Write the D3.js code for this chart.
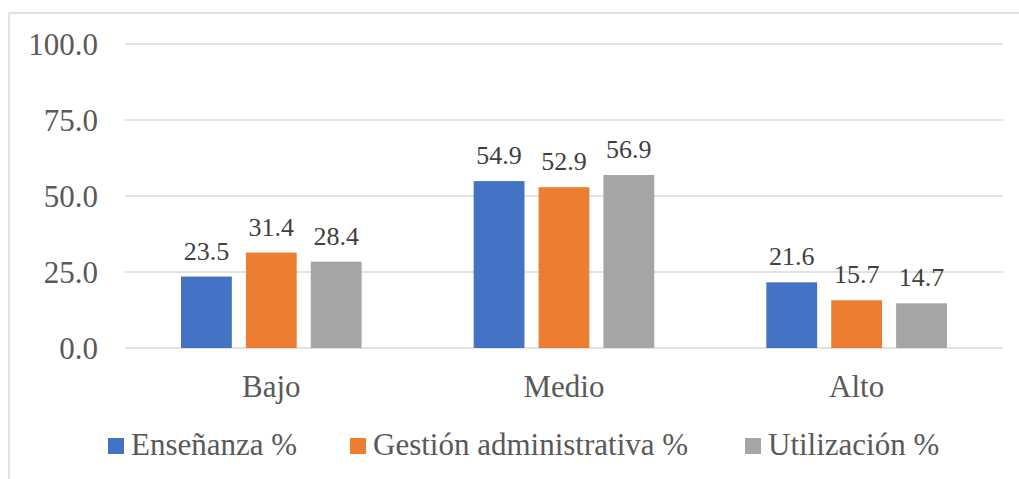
<!DOCTYPE html>
<html>
<head>
<meta charset="utf-8">
<script src="https://cdn.jsdelivr.net/npm/d3@7"></script>
<style>
  html, body { margin: 0; padding: 0; background: #fff; }
  svg { display: block; }
</style>
</head>
<body>
<svg id="chart" width="1019" height="479" font-family="'Liberation Serif', 'Times New Roman', Tinos, serif"></svg>
<script>
const categories = ["Bajo", "Medio", "Alto"];
const seriesNames = ["Enseñanza %", "Gestión administrativa %", "Utilización %"];
const ensenanza = [23.5, 54.9, 21.6];
const gestion = [31.4, 52.9, 15.7];
const utilizacion = [28.4, 56.9, 14.7];
const yTicks = [0, 25, 50, 75, 100];
const colors = ["#4472C4", "#ED7D31", "#A5A5A5"];

const seriesValues = [ensenanza, gestion, utilizacion];
const svg = d3.select("#chart");
const FONT = "Liberation Serif";
const TXT = "#595959";

// chart border (top + left visible)
svg.append("line").attr("x1", 9).attr("x2", 1019).attr("y1", 13).attr("y2", 13)
  .attr("stroke", "#d9d9d9").attr("stroke-width", 1.5);
svg.append("line").attr("x1", 9).attr("x2", 9).attr("y1", 13).attr("y2", 479)
  .attr("stroke", "#d9d9d9").attr("stroke-width", 1.5);

const x0 = d3.scaleBand().domain(categories).range([125, 1003]).paddingInner(0).paddingOuter(0);
const y = d3.scaleLinear().domain([0, 100]).range([348, 44]);
const x1 = d3.scaleBand().domain(d3.range(3)).range([56, 292.6 - 56]).paddingInner(0.217);

// gridlines
svg.append("g").selectAll("line").data(yTicks).join("line")
  .attr("x1", 125).attr("x2", 1003)
  .attr("y1", d => y(d)).attr("y2", d => y(d))
  .attr("stroke", "#d9d9d9").attr("stroke-width", 1.5);

// y labels
svg.append("g").selectAll("text").data(yTicks).join("text")
  .attr("x", 98).attr("y", d => y(d) + 10.5)
  .attr("text-anchor", "end").attr("font-size", 31)
  .attr("font-family", FONT).attr("fill", TXT)
  .text(d => d.toFixed(1));

// bars
const groups = svg.append("g").selectAll("g").data(categories).join("g")
  .attr("transform", c => `translate(${x0(c)},0)`);
groups.each(function(c, ci) {
  const g = d3.select(this);
  seriesValues.forEach((vals, si) => {
    const v = vals[ci];
    g.append("rect")
      .attr("x", x1(si)).attr("width", x1.bandwidth())
      .attr("y", y(v)).attr("height", y(0) - y(v))
      .attr("fill", colors[si]);
    g.append("text")
      .attr("x", x1(si) + x1.bandwidth() / 2).attr("y", y(v) - 17)
      .attr("text-anchor", "middle").attr("font-size", 26)
      .attr("font-family", FONT).attr("fill", "#404040")
      .text(v.toFixed(1));
  });
});

// category labels
svg.append("g").selectAll("text").data(categories).join("text")
  .attr("x", c => x0(c) + x0.bandwidth() / 2).attr("y", 396.5)
  .attr("text-anchor", "middle").attr("font-size", 31)
  .attr("font-family", FONT).attr("fill", TXT)
  .text(c => c);

// legend
const legendX = [108, 350, 745];
const leg = svg.append("g").selectAll("g").data(seriesNames).join("g")
  .attr("transform", (d, i) => `translate(${legendX[i]},0)`);
leg.append("rect").attr("x", 0).attr("y", 438).attr("width", 16).attr("height", 16)
  .attr("fill", (d, i) => colors[i]);
leg.append("text").attr("x", 23).attr("y", 455).attr("font-size", 31)
  .attr("font-family", FONT).attr("fill", TXT).text(d => d);
</script>
</body>
</html>
